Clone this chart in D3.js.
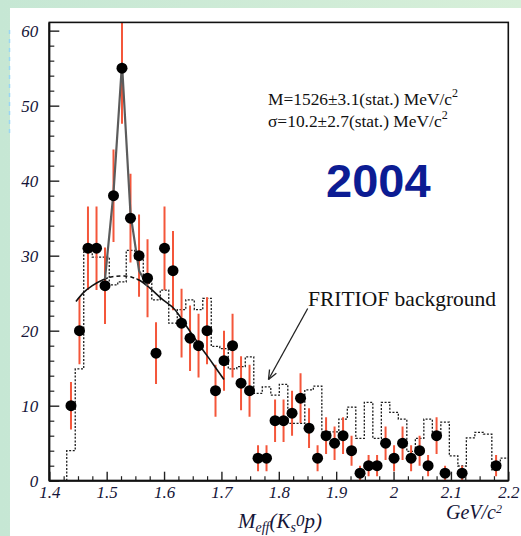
<!DOCTYPE html>
<html>
<head>
<meta charset="utf-8">
<script src="https://cdn.jsdelivr.net/npm/d3@7"></script>
<style>
  html, body { margin: 0; padding: 0; background: #ffffff; }
  svg { display: block; }
</style>
</head>
<body>
<svg id="chart" width="521" height="536"></svg>
<script>
// K0s p invariant-mass spectrum: bin centres (GeV/c^2)
const binCenters = [
  1.4378, 1.4526, 1.4674, 1.4823, 1.4971, 1.5119, 1.5267, 1.5415, 1.5564, 1.5712,
  1.5860, 1.6008, 1.6156, 1.6305, 1.6453, 1.6601, 1.6749, 1.6897, 1.7045, 1.7194,
  1.7342, 1.7490, 1.7638, 1.7786, 1.7935, 1.8083, 1.8231, 1.8379, 1.8527, 1.8676,
  1.8824, 1.8972, 1.9120, 1.9268, 1.9416, 1.9565, 1.9713, 1.9861, 2.0009, 2.0157,
  2.0306, 2.0454, 2.0602, 2.0750, 2.0898, 2.1047, 2.1195, 2.1343, 2.1491, 2.1639,
  2.1787, 2.1935
];

// Events per bin (data points, sqrt(N) errors)
const counts = [
  10, 20, 31, 31, 26, 38, 55, 35, 30, 27,
  17, 31, 28, 21, 19, 18, 20, 12, 16, 18,
  13, 12, 3, 3, 8, 8, 9, 11, 7, 3,
  6, 5, 6, 4, 1, 2, 2, 5, 3, 5,
  3, 4, 2, 6, 1, 0, 1, 0, 0, 0,
  2, 0
];

// FRITIOF background histogram, same binning
const fritiof = [
  4.0, 14.9, 30.5, 29.8, 29.8, 26.1, 26.5, 30.7, 29.6, 26.3,
  24.1, 25.4, 21.0, 22.8, 24.1, 22.8, 24.3, 17.9, 17.6, 14.9,
  15.2, 16.5, 11.65, 12.5, 11.4, 12.85, 7.65, 7.65, 12.1, 12.6,
  6.5, 6.5, 8.2, 9.8, 5.65, 10.45, 5.65, 10.45, 9.1, 8.2,
  3.9, 5.65, 8.2, 6.1, 7.8, 3.3, 1.96, 5.7, 6.45, 6.2,
  1.43, 3.0
];

// Background part of the fit (mass, events)
const bgFitMass = [1.4465, 1.460, 1.475, 1.4936, 1.510, 1.530, 1.545, 1.558, 1.575, 1.595, 1.619, 1.640, 1.6625, 1.685, 1.7043];
const bgFitValue = [23.9, 25.1, 26.0, 26.8, 27.2, 27.3, 27.1, 26.7, 25.7, 24.3, 22.8, 20.5, 18.0, 15.6, 13.5];

// Signal + background fit around the peak
const peakFitMass = [1.4971, 1.5119, 1.5267, 1.5415, 1.5564, 1.5712];
const peakFitValue = [26.9, 38.4, 55.6, 35.6, 28.0, 26.0];

// Axis ticks
const xMajorTicks = [1.4, 1.5, 1.6, 1.7, 1.8, 1.9, 2.0, 2.1, 2.2];
const xTickLabels = ["1.4", "1.5", "1.6", "1.7", "1.8", "1.9", "2", "2.1", "2.2"];
const yMajorTicks = [0, 10, 20, 30, 40, 50, 60];
const yTickLabels = ["0", "10", "20", "30", "40", "50", "60"];

const svg = d3.select("#chart");
const W = 521, H = 536;

// page background: mint slide border around a white panel
const defs = svg.append("defs");
const grad = defs.append("linearGradient").attr("id", "mint").attr("x1", 0).attr("x2", 1).attr("y1", 0).attr("y2", 0);
grad.append("stop").attr("offset", "0%").attr("stop-color", "#c6e7d4");
grad.append("stop").attr("offset", "100%").attr("stop-color", "#d7efd9");
svg.append("rect").attr("width", W).attr("height", H).attr("fill", "url(#mint)");
svg.append("rect").attr("x", 10).attr("y", 8).attr("width", W - 10).attr("height", H - 8).attr("fill", "#ffffff");
svg.append("line").attr("x1", 9.5).attr("x2", 9.5).attr("y1", 30).attr("y2", 135)
  .attr("stroke", "#9ad6f2").attr("stroke-width", 1.5).attr("stroke-dasharray", "4,5");

const x = d3.scaleLinear().domain([1.4, 2.2]).range([49.3, 508.3]);
const y = d3.scaleLinear().domain([0, 61.1]).range([480.7, 22.4]);

const plotL = x(1.4), plotR = x(2.2), plotT = y(61.1), plotB = y(0);

defs.append("clipPath").attr("id", "plot")
  .append("rect").attr("x", plotL).attr("y", plotT).attr("width", plotR - plotL).attr("height", plotB - plotT);

const g = svg.append("g").attr("clip-path", "url(#plot)");

// bin edges from the centres
const edges = binCenters.map((c, i) => i === 0 ? c - (binCenters[1] - c) / 2 : (binCenters[i - 1] + c) / 2);
edges.push(binCenters[binCenters.length - 1] + (binCenters[binCenters.length - 1] - binCenters[binCenters.length - 2]) / 2);

// FRITIOF histogram as a dotted step outline
const stepPts = [[edges[0], 0]];
fritiof.forEach((v, i) => { stepPts.push([edges[i], v]); stepPts.push([edges[i + 1], v]); });
g.append("path")
  .attr("d", d3.line().x(d => x(d[0])).y(d => y(d[1]))(stepPts))
  .attr("fill", "none").attr("stroke", "#1a1a1a").attr("stroke-width", 1.3)
  .attr("stroke-dasharray", "2,1.6");

// error bars
const pts = binCenters.map((m, i) => ({ m, n: counts[i] })).filter(d => d.n > 0);
g.selectAll("line.err").data(pts).enter().append("line")
  .attr("class", "err")
  .attr("x1", d => x(d.m)).attr("x2", d => x(d.m))
  .attr("y1", d => y(d.n - Math.sqrt(d.n))).attr("y2", d => y(d.n + Math.sqrt(d.n)))
  .attr("stroke", "#f4563a").attr("stroke-width", 2);

// background fit: solid outside the peak, dashed underneath it
const bgPts = bgFitMass.map((m, i) => [m, bgFitValue[i]]);
const fitLine = d3.line().x(d => x(d[0])).y(d => y(d[1])).curve(d3.curveMonotoneX);
defs.append("clipPath").attr("id", "bgSolid").selectAll("rect")
  .data([[1.40, 1.502], [1.552, 2.2]]).enter().append("rect")
  .attr("x", d => x(d[0])).attr("width", d => x(d[1]) - x(d[0])).attr("y", 0).attr("height", H);
defs.append("clipPath").attr("id", "bgDash").append("rect")
  .attr("x", x(1.502)).attr("width", x(1.552) - x(1.502)).attr("y", 0).attr("height", H);
g.append("path").attr("d", fitLine(bgPts)).attr("clip-path", "url(#bgSolid)")
  .attr("fill", "none").attr("stroke", "#111").attr("stroke-width", 1.6);
g.append("path").attr("d", fitLine(bgPts)).attr("clip-path", "url(#bgDash)")
  .attr("fill", "none").attr("stroke", "#111").attr("stroke-width", 1.6).attr("stroke-dasharray", "4,3");

// signal + background fit
const peakPts = peakFitMass.map((m, i) => [m, peakFitValue[i]]);
g.append("path").attr("d", d3.line().x(d => x(d[0])).y(d => y(d[1]))(peakPts))
  .attr("fill", "none").attr("stroke", "#5c5c5c").attr("stroke-width", 2.2).attr("stroke-linejoin", "round");

// data markers
g.selectAll("circle.pt").data(pts).enter().append("circle")
  .attr("class", "pt")
  .attr("cx", d => x(d.m)).attr("cy", d => y(d.n)).attr("r", 5.5).attr("fill", "#000");

// axes with inward ticks
const labelFont = "'Liberation Serif', 'Times New Roman', serif";
const tickColor = "#151538";

const xMinor = d3.range(1.4, 2.2001, 0.025).map(v => +v.toFixed(3)).filter(v => !xMajorTicks.some(t => Math.abs(t - v) < 1e-6));
svg.append("g").attr("transform", `translate(0,${plotB})`)
  .call(d3.axisBottom(x).tickValues(xMinor).tickSize(-4.5).tickFormat(""))
  .call(a => a.select(".domain").remove())
  .selectAll("line").attr("stroke", "#222").attr("stroke-width", 1.2);
const xAx = svg.append("g").attr("transform", `translate(0,${plotB})`)
  .call(d3.axisBottom(x).tickValues(xMajorTicks).tickSize(-9).tickPadding(5)
    .tickFormat((d, i) => xTickLabels[i]));
xAx.select(".domain").remove();
xAx.selectAll("line").attr("stroke", "#222").attr("stroke-width", 1.4);
xAx.selectAll("text").attr("font-family", labelFont).attr("font-style", "italic")
  .attr("font-size", 17).attr("fill", tickColor);

const yMinor = d3.range(0, 61, 2).filter(v => v % 10 !== 0);
svg.append("g").attr("transform", `translate(${plotL},0)`)
  .call(d3.axisLeft(y).tickValues(yMinor).tickSize(-5).tickFormat(""))
  .call(a => a.select(".domain").remove())
  .selectAll("line").attr("stroke", "#222").attr("stroke-width", 1.2);
const yAx = svg.append("g").attr("transform", `translate(${plotL},0)`)
  .call(d3.axisLeft(y).tickValues(yMajorTicks).tickSize(-10).tickPadding(11)
    .tickFormat((d, i) => yTickLabels[i]));
yAx.select(".domain").remove();
yAx.selectAll("line").attr("stroke", "#222").attr("stroke-width", 1.4);
yAx.selectAll("text").attr("font-family", labelFont).attr("font-style", "italic")
  .attr("font-size", 17).attr("fill", tickColor);

// frame
svg.append("rect").attr("x", plotL).attr("y", plotT).attr("width", plotR - plotL).attr("height", plotB - plotT)
  .attr("fill", "none").attr("stroke", "#111").attr("stroke-width", 1.6);
svg.append("line").attr("x1", plotL).attr("x2", plotL).attr("y1", plotT).attr("y2", plotB)
  .attr("stroke", "#111").attr("stroke-width", 2);
svg.append("line").attr("x1", plotL).attr("x2", plotR).attr("y1", plotB).attr("y2", plotB)
  .attr("stroke", "#111").attr("stroke-width", 2);

// fit results
const fitText = svg.append("g").attr("font-family", labelFont).attr("font-size", 17.4).attr("fill", "#111");
const t1 = fitText.append("text").attr("x", 268).attr("y", 105);
t1.append("tspan").text("M=1526±3.1(stat.) MeV/c");
t1.append("tspan").attr("dy", -8).attr("font-size", 12).text("2");
const t2 = fitText.append("text").attr("x", 268).attr("y", 127);
t2.append("tspan").text("σ=10.2±2.7(stat.) MeV/c");
t2.append("tspan").attr("dy", -8).attr("font-size", 12).text("2");

svg.append("text").attr("x", 326).attr("y", 197)
  .attr("font-family", "'Liberation Sans', Arial, sans-serif").attr("font-weight", "bold")
  .attr("font-size", 47).attr("fill", "#0c1c93").text("2004");

// FRITIOF label with arrow
svg.append("text").attr("x", 308).attr("y", 306)
  .attr("font-family", labelFont).attr("font-size", 21.5).attr("fill", "#111")
  .text("FRITIOF background");
const a0 = [307.7, 308.5], a1 = [268.5, 379.5];
svg.append("line").attr("x1", a0[0]).attr("y1", a0[1]).attr("x2", a1[0]).attr("y2", a1[1])
  .attr("stroke", "#222").attr("stroke-width", 1.3);
const ang = Math.atan2(a0[1] - a1[1], a0[0] - a1[0]);
[-0.4, 0.4].forEach(d => {
  svg.append("line").attr("x1", a1[0]).attr("y1", a1[1])
    .attr("x2", a1[0] + 10 * Math.cos(ang + d)).attr("y2", a1[1] + 10 * Math.sin(ang + d))
    .attr("stroke", "#222").attr("stroke-width", 1.3);
});

// axis titles
const xt = svg.append("text").attr("x", 238).attr("y", 528)
  .attr("font-family", labelFont).attr("font-style", "italic").attr("font-size", 21).attr("fill", tickColor);
xt.append("tspan").text("M");
xt.append("tspan").attr("dy", 4).attr("font-size", 14).text("eff");
xt.append("tspan").attr("dy", -4).text("(K");
xt.append("tspan").attr("dy", 4).attr("font-size", 14).text("s");
xt.append("tspan").attr("dy", -6).attr("font-size", 17).text("0");
xt.append("tspan").attr("dy", 2).text("p)");

const ut = svg.append("text").attr("x", 446).attr("y", 519)
  .attr("font-family", labelFont).attr("font-style", "italic").attr("font-size", 20).attr("fill", tickColor);
ut.append("tspan").text("GeV/c");
ut.append("tspan").attr("dy", -6).attr("font-size", 12).text("2");
</script>
</body>
</html>
